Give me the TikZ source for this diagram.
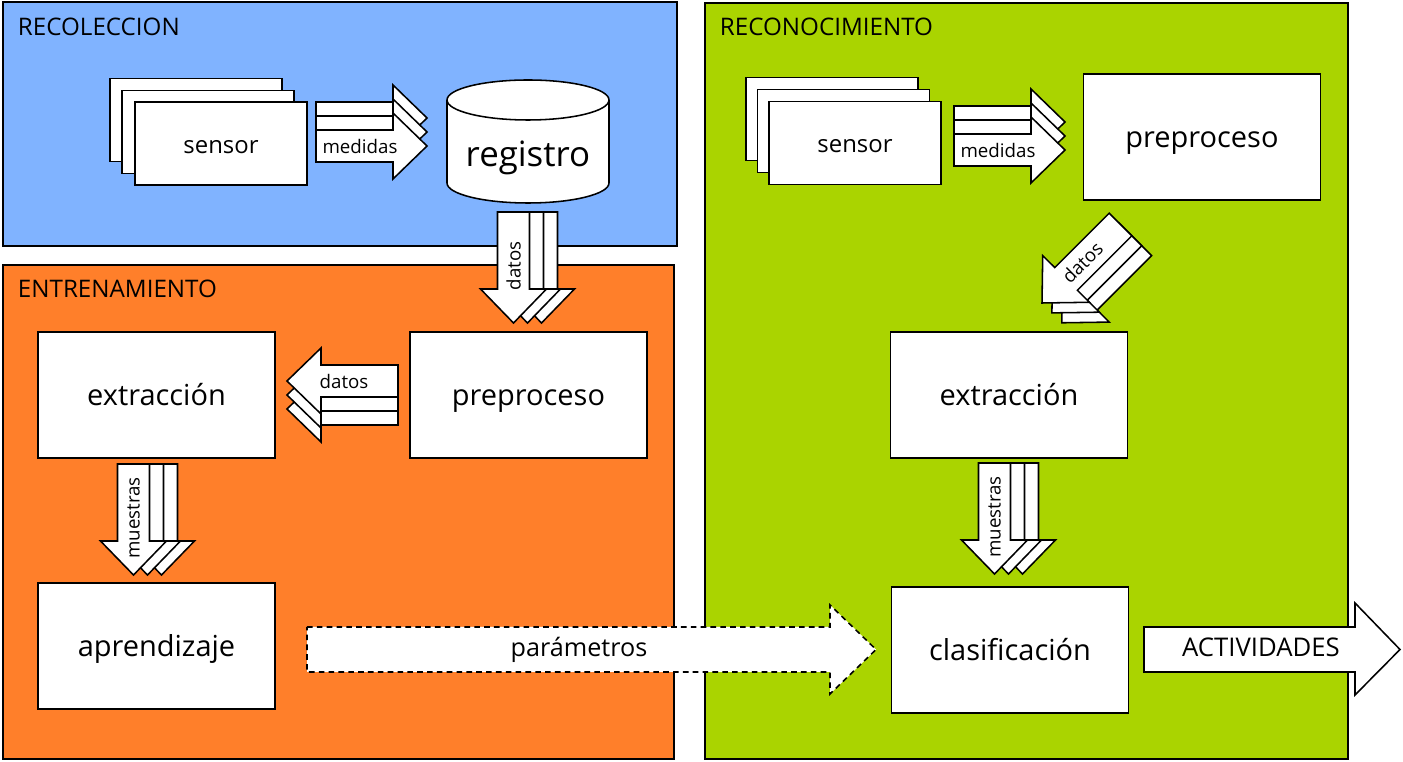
\documentclass[tikz,border=0pt]{standalone}
\usepackage{fontspec}
\setmainfont{Open Sans}
\usepackage{tikz}

\definecolor{azul}{HTML}{80B3FF}
\definecolor{naranja}{HTML}{FF7F2A}
\definecolor{verde}{HTML}{AAD400}

\newcommand{\pila}[6]{%
\begin{scope}[shift={#2}, rotate=#3]
\foreach \d in {28,14,0}
  \draw[flecha] (0,\d) -- (-34,\d+33) -- (-34,\d+16) -- (-111,\d+16) -- (-111,\d-16) -- (-34,\d-16) -- (-34,\d-33) -- cycle;
\node[chico, rotate=#5] (#1) at (#6,0) {#4};
\end{scope}}

\begin{document}
\begin{tikzpicture}[x=0.25mm, y=0.25mm,
  panel/.style={draw, line width=1.1pt},
  titulo/.style={anchor=west, font=\fontsize{17.2}{20}\selectfont},
  caja/.style={draw, fill=white, line width=1.1pt, minimum width=59.25mm, minimum height=31.5mm, text height=1.5em, text depth=0pt, font=\fontsize{20.6}{24}\selectfont},
  sensorcaja/.style={draw, fill=white, line width=1.1pt, minimum width=43mm, minimum height=20.75mm, text height=1.4em, text depth=0pt, font=\fontsize{17}{20}\selectfont},
  flecha/.style={draw, fill=white, line width=1.1pt, line join=miter},
  chico/.style={font=\fontsize{13.3}{15}\selectfont, inner sep=0pt},
  rotulo/.style={font=\fontsize{18}{21}\selectfont, text height=1.1em, text depth=0pt}]
\useasboundingbox (0,0) rectangle (1403,761);

\draw[panel, fill=azul] (3,759) rectangle (677,515);
\draw[panel, fill=naranja] (3,496) rectangle (674,2);
\draw[panel, fill=verde] (705,758) rectangle (1348,2);
\node[titulo] (t1) at (13,734) {RECOLECCION};
\node[titulo] (t2) at (13,472) {ENTRENAMIENTO};
\node[titulo] (t3) at (715,734) {RECONOCIMIENTO};

% recoleccion
\node[sensorcaja] (sensor1c) at (196,641) {};
\node[sensorcaja] (sensor1b) at (208,629) {};
\node[sensorcaja] (sensor1) at (221,617.5) {sensor};
\pila{medidas1}{(427,615)}{0}{medidas}{0}{-67}
\draw[flecha] (447,661) -- (447,578) arc (180:360:81 and 20) -- (609,661) arc (0:180:81 and 20) -- cycle;
\draw[line width=1.1pt] (447,661) arc (180:360:81 and 20);
\node[font=\fontsize{24.8}{28}\selectfont, text height=0.75em, text depth=0pt] (registro) at (528,600) {registro};
\pila{datos1}{(513.5,438)}{-90}{datos}{90}{-57}

% entrenamiento
\node[caja] (extraccion1) at (156.5,366) {extracción};
\node[caja] (preproceso1) at (528.5,366) {preproceso};
\node[caja] (aprendizaje) at (156.5,115) {aprendizaje};
\pila{datos2}{(287,380)}{180}{datos}{0}{-57}
\pila{muestras1}{(133.5,186)}{-90}{muestras}{90}{-57}

% reconocimiento
\node[sensorcaja] (sensor2c) at (832,642) {};
\node[sensorcaja] (sensor2b) at (843.5,630) {};
\node[sensorcaja] (sensor2) at (855,618) {sensor};
\pila{medidas2}{(1065,611)}{0}{medidas}{0}{-67}
\node[caja] (preproceso2) at (1202,624) {preproceso};
\pila{datos3}{(1042,458)}{225}{datos}{45}{-57}
\node[caja] (extraccion2) at (1009,366) {extracción};
\pila{muestras2}{(994.5,187)}{-90}{muestras}{90}{-57}
\node[caja] (clasificacion) at (1010,111) {clasificación};

% salidas
\draw[flecha, dash pattern=on 4pt off 3pt] (307,134) -- (830,134) -- (830,156) -- (876,111.5) -- (830,67) -- (830,89) -- (307,89) -- cycle;
\node[rotulo, font=\fontsize{17.9}{21}\selectfont] (parametros) at (579,112) {parámetros};
\draw[flecha] (1144,134) -- (1355,134) -- (1355,158) -- (1400,111.5) -- (1355,66) -- (1355,89) -- (1144,89) -- cycle;
\node[rotulo, font=\fontsize{18.3}{21}\selectfont] (actividades) at (1261,112) {ACTIVIDADES};
\end{tikzpicture}
\end{document}
